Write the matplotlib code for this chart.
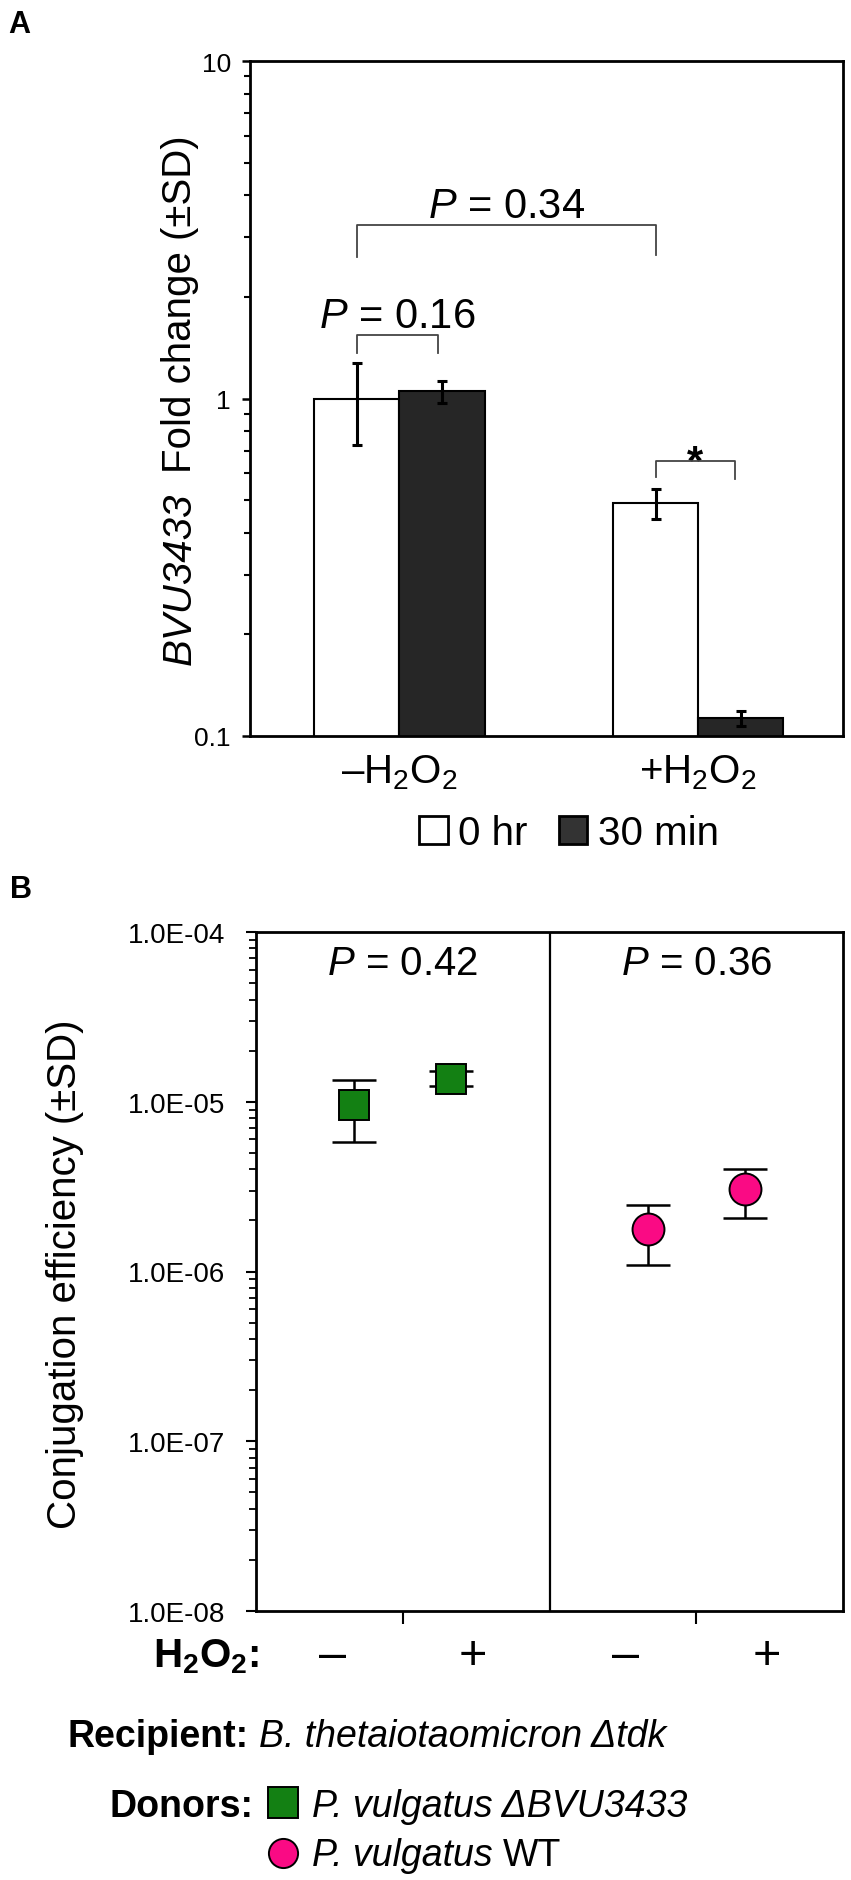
import numpy as np
import matplotlib
matplotlib.use('Agg')
import matplotlib.pyplot as plt
from matplotlib.ticker import LogLocator, FuncFormatter, NullFormatter
from matplotlib.patches import Patch, Rectangle
from matplotlib.lines import Line2D

plt.rcParams['font.family'] = ['Liberation Sans', 'DejaVu Sans']
plt.rcParams['mathtext.fontset'] = 'custom'
plt.rcParams['mathtext.rm'] = 'Liberation Sans'
plt.rcParams['mathtext.it'] = 'Liberation Sans:italic'
plt.rcParams['mathtext.bf'] = 'Liberation Sans:bold'

# ---- panel A data (fold change, log axis) ----
conditions = ['\u2013H$_2$O$_2$', '+H$_2$O$_2$']
times = ['0 hr', '30 min']
fold_0hr = [1.00, 0.49]
fold_0hr_sd = [0.27, 0.05]
fold_30min = [1.05, 0.113]
fold_30min_sd = [0.08, 0.006]

# ---- panel B data (conjugation efficiency) ----
h2o2_labels = ['\u2013', '+', '\u2013', '+']
mutant_eff = [9.6e-6, 1.37e-5]
mutant_sd = [3.8e-6, 1.4e-6]
wt_eff = [1.78e-6, 3.05e-6]
wt_sd = [0.69e-6, 0.97e-6]
p_values_b = ['0.42', '0.36']

green = '#138013'
pink = '#fa0a84'
dark = '#262626'

W, H = 851, 1881
fig = plt.figure(figsize=(W / 100, H / 100), dpi=100)


def fx(px):
    return px / W


def fy(py):
    return 1 - py / H


# ================= panel A =================
axA = fig.add_axes([fx(250), fy(737), (843 - 250) / W, (737 - 62) / H])
x = np.arange(len(conditions))
w = 0.285
axA.bar(x - w / 2, fold_0hr, w, color='white', edgecolor='k', linewidth=1.5, zorder=2)
axA.bar(x + w / 2, fold_30min, w, color=dark, edgecolor='k', linewidth=1.5, zorder=2)
axA.errorbar(x - w / 2, fold_0hr, yerr=fold_0hr_sd, fmt='none', ecolor='k',
             elinewidth=2.2, capsize=3.6, capthick=2.2, zorder=3)
axA.errorbar(x + w / 2, fold_30min, yerr=fold_30min_sd, fmt='none', ecolor='k',
             elinewidth=2.2, capsize=3.6, capthick=2.2, zorder=3)
axA.set_yscale('log')
axA.set_ylim(0.1, 10)
axA.set_xlim(-0.5, 1.485)
axA.yaxis.set_major_locator(LogLocator(base=10))
axA.yaxis.set_minor_locator(LogLocator(base=10, subs=np.arange(2, 10)))
axA.yaxis.set_major_formatter(FuncFormatter(lambda v, _: f'{v:g}'))
axA.yaxis.set_minor_formatter(NullFormatter())
axA.set_xticks(x)
axA.set_xticklabels(conditions)
axA.tick_params(axis='y', which='major', direction='out', length=5.8, width=1.8,
                labelsize=19, pad=8)
axA.tick_params(axis='y', which='minor', direction='out', length=4.3, width=1.5)
axA.tick_params(axis='x', length=0, labelsize=29, pad=12)
for s in axA.spines.values():
    s.set_linewidth(2)

# significance brackets
brk_col = '#444444'
def bracket(ax, x1, x2, ytop, y1, y2, label, ylab, **kw):
    ax.plot([x1, x1, x2, x2], [y1, ytop, ytop, y2], color=brk_col, lw=1.3,
            zorder=4, clip_on=False)
    ax.text((x1 + x2) / 2, ylab, label, ha='center', va='baseline', **kw)

bracket(axA, x[0] - w / 2, x[1] - w / 2, 3.26, 2.62, 2.67,
        '$\\mathit{P}$ = 0.34', 3.44, fontsize=30)
bracket(axA, x[0] - w / 2, x[0] + w / 2 - 0.012, 1.54, 1.36, 1.36,
        '$\\mathit{P}$ = 0.16', 1.634, fontsize=30)
bracket(axA, x[1] - w / 2, x[1] + w / 2 - 0.02, 0.655, 0.587, 0.579,
        '*', 0.60, fontsize=30, fontweight='bold')

fig.legend(handles=[Patch(facecolor='white', edgecolor='k', linewidth=2),
                    Patch(facecolor='#333333', edgecolor='k', linewidth=2)],
           labels=times, loc='center', bbox_to_anchor=(fx(569), fy(834)),
           ncol=2, frameon=False, fontsize=29, handlelength=0.7,
           handleheight=0.7, handletextpad=0.25, columnspacing=0.8,
           borderaxespad=0, borderpad=0)

fig.text(fx(8), fy(33), 'A', fontsize=22, fontweight='bold', va='baseline')

# ================= panel B =================
axB = fig.add_axes([fx(256), fy(1612), (843 - 256) / W, (1612 - 933) / H])
pos_mut = [1 - 0.33, 1 + 0.33]
pos_wt = [3 - 0.33, 3 + 0.33]
axB.errorbar(pos_mut, mutant_eff, yerr=mutant_sd, fmt='none', ecolor='k',
             elinewidth=1.8, capsize=16, capthick=1.8, zorder=2)
axB.errorbar(pos_wt, wt_eff, yerr=wt_sd, fmt='none', ecolor='k',
             elinewidth=1.8, capsize=16, capthick=1.8, zorder=2)
axB.plot(pos_mut, mutant_eff, ls='none', marker='s', ms=21, mfc=green,
         mec='k', mew=1.4, zorder=3)
axB.plot(pos_wt, wt_eff, ls='none', marker='o', ms=23, mfc=pink,
         mec='k', mew=1.4, zorder=3)
axB.axvline(2, color='k', lw=1.6)
axB.set_yscale('log')
axB.set_ylim(1e-8, 1e-4)
axB.set_xlim(0, 4)
axB.yaxis.set_major_locator(LogLocator(base=10))
axB.yaxis.set_minor_locator(LogLocator(base=10, subs=np.arange(2, 10)))
axB.yaxis.set_major_formatter(FuncFormatter(lambda v, _: f'{v:.1E}'))
axB.yaxis.set_minor_formatter(NullFormatter())
axB.tick_params(axis='y', which='major', direction='out', length=7.2, width=1.5,
                labelsize=20, pad=15)
axB.tick_params(axis='y', which='minor', direction='out', length=5, width=1.3)
axB.set_xticks([1, 3])
axB.set_xticklabels([])
axB.set_xticks([0.52, 1.48, 2.52, 3.48], minor=True)
axB.set_xticklabels(h2o2_labels, minor=True)
axB.tick_params(axis='x', which='major', direction='out', length=9.4, width=1.5)
axB.tick_params(axis='x', which='minor', length=0, labelsize=35, pad=16)
for s in axB.spines.values():
    s.set_linewidth(2)
for xc, pv in zip([1, 3], p_values_b):
    axB.text(xc, 0.938, '$\\mathit{P}$ = ' + pv, transform=axB.get_xaxis_transform(),
             ha='center', va='baseline', fontsize=29)

fig.text(fx(65), fy(1274), 'Conjugation efficiency (\u00b1SD)', rotation=90,
         ha='center', va='center', fontsize=29)
fig.text(fx(10), fy(898), 'B', fontsize=22, fontweight='bold', va='baseline')
fig.text(fx(153), fy(1667), '$\\mathbf{H_2O_2}$:', fontsize=29,
         fontweight='bold', va='baseline')

# ---- composed text rows ----
renderer = fig.canvas.get_renderer()


def make(s, **kw):
    t = fig.text(0, 0, s, **kw)
    return t, t.get_window_extent(renderer)


# y label of panel A: italic gene name + plain text, rotated
pieces = [make('BVU3433', fontsize=29, fontstyle='italic', rotation=90,
               ha='center', va='bottom'),
          make('Fold change (\u00b1SD)', fontsize=29, rotation=90,
               ha='center', va='bottom')]
gap = 20
total = sum(b.height for _, b in pieces) + gap
yb = (H - 400) - total / 2
for t, b in pieces:
    t.set_position((fx(180), yb / H))
    yb += b.height + gap


def row(x0, ybase, items, gap=10):
    xc = x0
    for s, kw in items:
        t, b = make(s, ha='left', va='baseline', **kw)
        t.set_position((fx(xc), fy(ybase)))
        xc += b.width + gap
    return xc


row(68, 1747, [('Recipient:', dict(fontsize=27, fontweight='bold')),
               ('B. thetaiotaomicron \u0394tdk', dict(fontsize=27, fontstyle='italic'))])
end = row(110, 1817, [('Donors:', dict(fontsize=27, fontweight='bold'))])
sq_left = end + 4
fig.add_artist(Rectangle((fx(sq_left), fy(1819)), 30 / W, 31 / H,
                         transform=fig.transFigure, facecolor=green,
                         edgecolor='k', linewidth=1.4))
fig.add_artist(Line2D([fx(sq_left + 15)], [fy(1854)], marker='o', ms=21,
                      mfc=pink, mec='k', mew=1.4, transform=fig.transFigure))
txt_left = sq_left + 30 + 14
row(txt_left, 1817, [('P. vulgatus \u0394BVU3433', dict(fontsize=27, fontstyle='italic'))])
row(txt_left, 1866, [('P. vulgatus', dict(fontsize=27, fontstyle='italic')),
                     ('WT', dict(fontsize=27))])

fig.savefig('out.png', dpi=100)
